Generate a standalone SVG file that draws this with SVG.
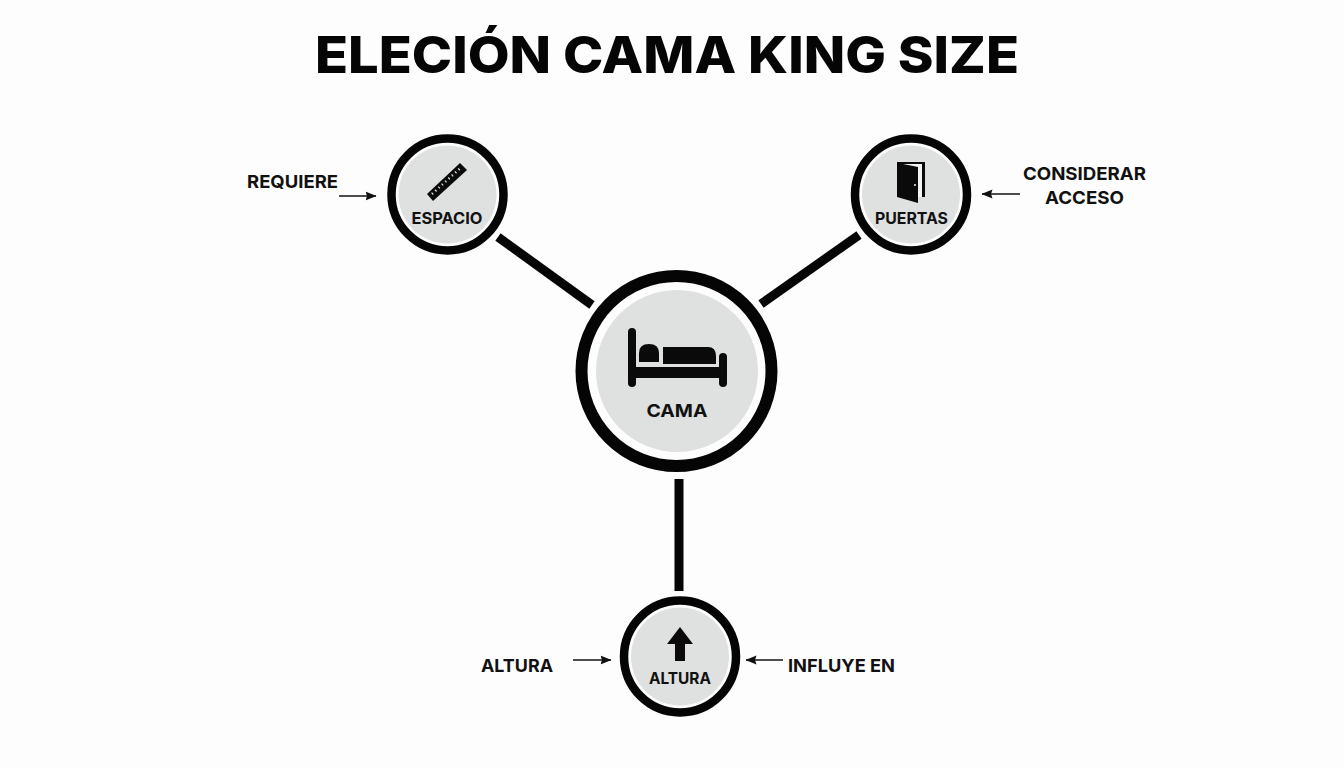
<svg xmlns="http://www.w3.org/2000/svg" width="1344" height="768" viewBox="0 0 1344 768">
<defs>
<marker id="ah" markerUnits="userSpaceOnUse" markerWidth="11" markerHeight="10" refX="10.5" refY="5" orient="auto"><path d="M0 0.5L11 5L0 9.5L1.5 5Z" fill="#111"/></marker>
</defs>
<style>
text{font-family:"Inter","Liberation Sans",sans-serif;fill:#111;text-anchor:middle;font-weight:700}
.ring{fill:#fdfdfd;stroke:#050505}
.disc{fill:#dfe0e0}
.con{stroke:#050505;stroke-width:9;fill:none}
.arr{stroke:#111;stroke-width:1.5;fill:none;marker-end:url(#ah)}
.lbl{font-size:18px}
.nl{font-size:16px}
.ic{fill:#0a0a0a}
</style>
<rect width="1344" height="768" fill="#fdfdfd"/>
<text id="title" x="667" y="73" textLength="704" lengthAdjust="spacingAndGlyphs" style="font-size:51px;font-weight:800;fill:#050505">ELECIÓN CAMA KING SIZE</text>
<g id="connectors">
<line class="con" x1="498" y1="237" x2="592" y2="305"/>
<line class="con" x1="859" y1="235" x2="761" y2="304"/>
<line class="con" x1="679" y1="479" x2="679" y2="591"/>
<line class="arr" x1="339" y1="196" x2="376" y2="196"/>
<line class="arr" x1="1020" y1="194" x2="982" y2="194"/>
<line class="arr" x1="573" y1="660" x2="611" y2="660"/>
<line class="arr" x1="783" y1="660" x2="746" y2="660"/>
</g>
<g id="node-cama">
<circle class="ring" cx="676.5" cy="371" r="95" stroke-width="12"/>
<circle class="disc" cx="677" cy="371" r="81"/>
<rect class="ic" x="628" y="328" width="8" height="59" rx="4"/>
<rect class="ic" x="719" y="353" width="8" height="34" rx="4"/>
<rect class="ic" x="634" y="367" width="88" height="11"/>
<path class="ic" d="M639 362V353Q639 344 649 344Q659 344 659 353V362Z"/>
<path class="ic" d="M663 347H708Q716 347 716 356L716 364H663Z"/>
<text x="677" y="417" textLength="61" lengthAdjust="spacingAndGlyphs" style="font-size:18px">CAMA</text>
</g>
<g id="node-espacio">
<circle class="ring" cx="447.5" cy="194.5" r="56" stroke-width="8.5"/>
<circle class="disc" cx="447.5" cy="194.5" r="49"/>
<path class="ic" d="M427 194L460 163L467 170L433 201Z"/>
<line x1="432" y1="194" x2="461" y2="167.5" stroke="#dfe0e0" stroke-width="2.5" stroke-dasharray="1.2 3.3"/>
<text class="nl" x="447" y="224" textLength="71" lengthAdjust="spacingAndGlyphs">ESPACIO</text>
</g>
<g id="node-puertas">
<circle class="ring" cx="911" cy="194.5" r="56" stroke-width="8.5"/>
<circle class="disc" cx="911" cy="194.5" r="49"/>
<path class="ic" d="M897 162H925V197H918V203L897 197Z"/>
<path d="M903 164H922V197H918V167Z" fill="#f4f4f4"/>
<circle cx="915" cy="185" r="1" fill="#f4f4f4"/>
<text class="nl" x="911.5" y="224" textLength="73" lengthAdjust="spacingAndGlyphs">PUERTAS</text>
</g>
<g id="node-altura">
<circle class="ring" cx="680" cy="656.5" r="56" stroke-width="8.5"/>
<circle class="disc" cx="680" cy="656.5" r="49"/>
<path class="ic" d="M680 627L693 644H685V661H675V644H667Z"/>
<text class="nl" x="680" y="684" textLength="62" lengthAdjust="spacingAndGlyphs">ALTURA</text>
</g>
<g id="labels">
<text class="lbl" x="292.5" y="187.5" textLength="91" lengthAdjust="spacingAndGlyphs">REQUIERE</text>
<text class="lbl" x="1084.5" y="180" textLength="123" lengthAdjust="spacingAndGlyphs">CONSIDERAR</text>
<text class="lbl" x="1084.5" y="204" textLength="79" lengthAdjust="spacingAndGlyphs">ACCESO</text>
<text class="lbl" x="517" y="671.5" textLength="72" lengthAdjust="spacingAndGlyphs">ALTURA</text>
<text class="lbl" x="841.5" y="671.5" textLength="107" lengthAdjust="spacingAndGlyphs">INFLUYE EN</text>
</g>
</svg>
